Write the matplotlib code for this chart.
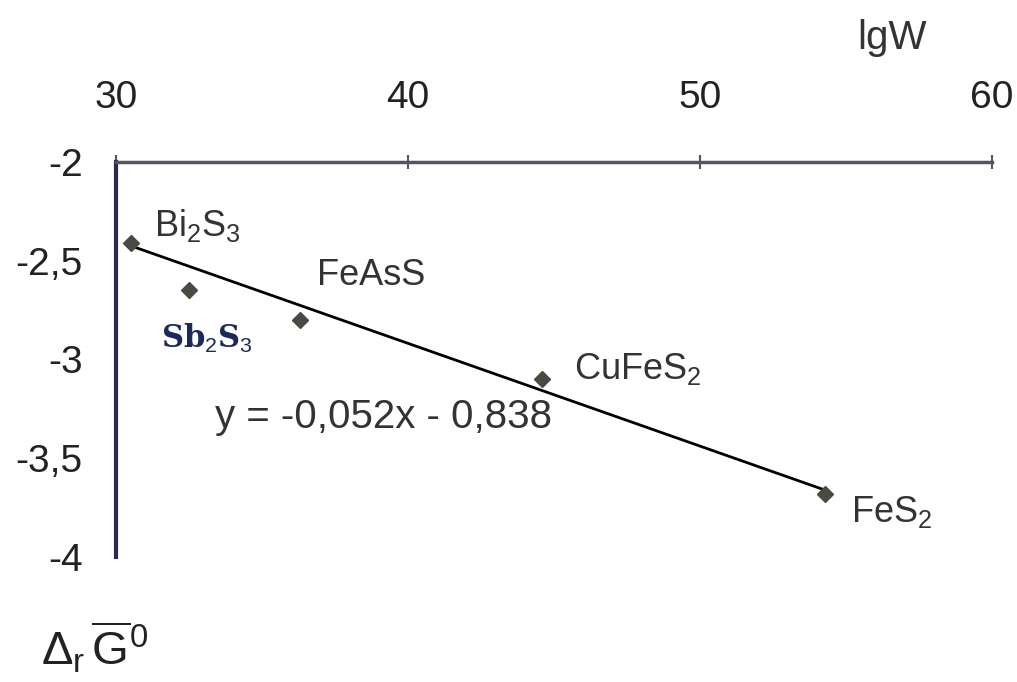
import numpy as np
import matplotlib.pyplot as plt

plt.rcParams['font.family'] = ['Liberation Sans', 'DejaVu Sans']
plt.rcParams['mathtext.fontset'] = 'custom'
plt.rcParams['mathtext.rm'] = 'Liberation Sans'
plt.rcParams['mathtext.it'] = 'Liberation Sans'

minerals = ['Bi$_2$S$_3$', 'Sb$_2$S$_3$', 'FeAsS', 'CuFeS$_2$', 'FeS$_2$']
lgW = np.array([30.5, 32.5, 36.3, 44.6, 54.3])
dG = np.array([-2.41, -2.65, -2.80, -3.10, -3.68])
slope = -0.052
intercept = -0.838
xticks = [30, 40, 50, 60]
yticks = [-2, -2.5, -3, -3.5, -4]
ytick_labels = ['-2', '-2,5', '-3', '-3,5', '-4']

fig = plt.figure(figsize=(10.17, 6.82), dpi=100)
ax = fig.add_axes([0.114, 0.1833, 0.861, 0.5792])

x_fit = np.array([lgW.min(), lgW.max()])
ax.plot(x_fit, slope * x_fit + intercept, color='black', lw=2)
ax.plot(lgW, dG, linestyle='none', marker='D', ms=8, color='#4a4a44')

ax.set_xlim(30, 60)
ax.set_ylim(-4, -2)
ax.spines['bottom'].set_visible(False)
ax.spines['right'].set_visible(False)
ax.spines['top'].set_color('#555560')
ax.spines['top'].set_linewidth(2.5)
ax.spines['left'].set_color('#2a2a50')
ax.spines['left'].set_linewidth(3)

ax.xaxis.tick_top()
ax.set_xticks(xticks)
ax.set_xticklabels([str(t) for t in xticks])
ax.tick_params(axis='x', direction='inout', length=10, width=1.5, color='#555560',
               pad=28, labelsize=28, labelcolor='#222222')
ax.set_yticks(yticks)
ax.set_yticklabels(ytick_labels)
ax.tick_params(axis='y', length=0, pad=24, labelsize=28, labelcolor='#222222')

lbl = dict(fontsize=26, va='center', ha='left', color='#333333')
ax.text(31.3, -2.32, minerals[0], **lbl)
ax.text(31.55, -2.895, 'Sb$_2$S$_3$', fontsize=22, va='center', ha='left',
        color='#1a2a5a', fontweight='bold', family=['DejaVu Serif'])
ax.text(36.9, -2.575, minerals[2], **lbl)
ax.text(45.7, -3.05, minerals[3], **lbl)
ax.text(55.2, -3.77, minerals[4], **lbl)
ax.text(33.4, -3.29, 'y = -0,052x - 0,838', fontsize=29, va='center',
        ha='left', color='#333333')

fig.text(0.877, 0.945, 'lgW', fontsize=29, ha='center', va='center', color='#333333')
fig.text(0.04, 0.05, r'$\Delta_r\,\overline{G}^0$', fontsize=34, ha='left',
         va='center', color='#222222')

fig.savefig('out.png', dpi=100)
